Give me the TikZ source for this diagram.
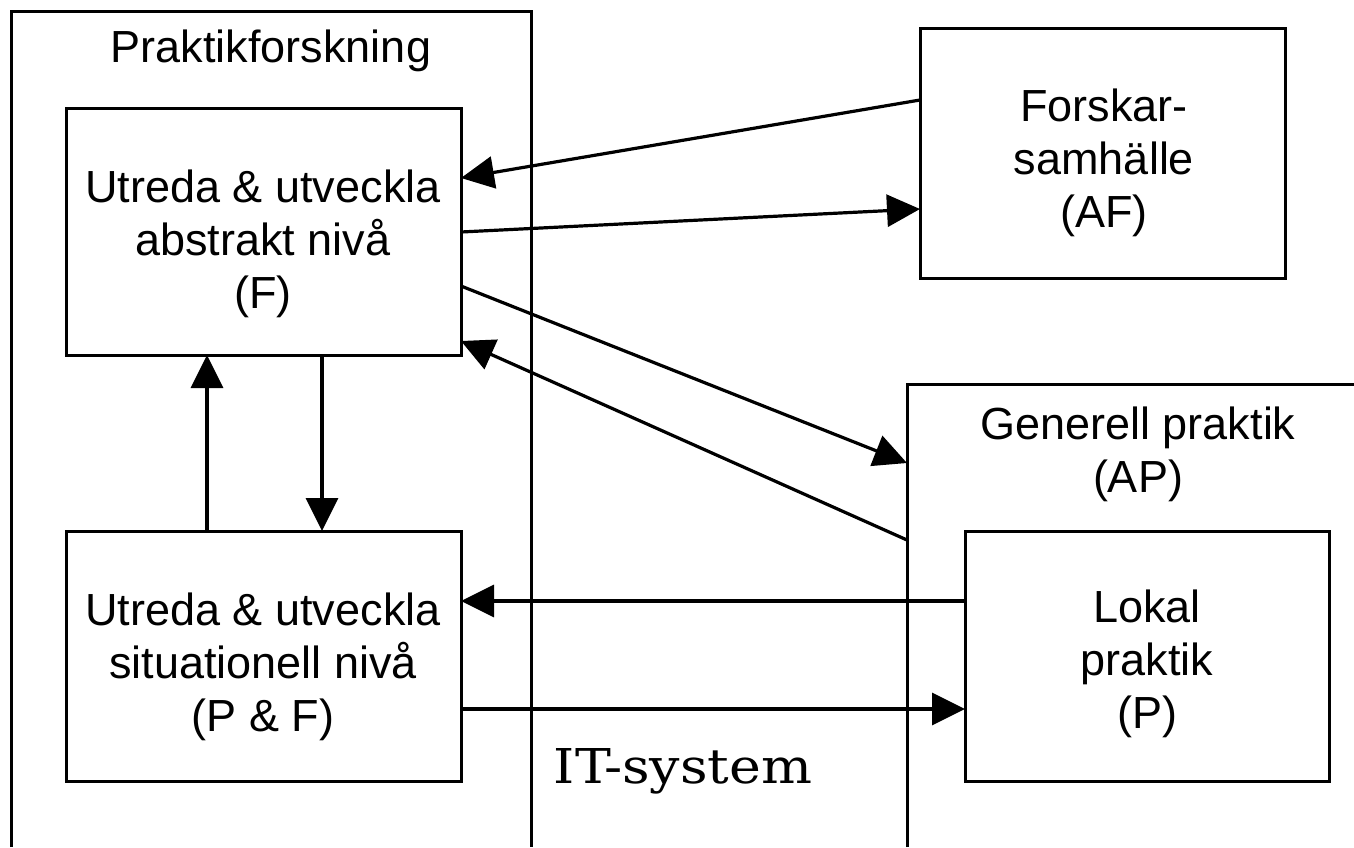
\documentclass[tikz,border=0pt]{standalone}
\usepackage{fontspec}
\setmainfont{Liberation Sans}
\newfontfamily\itsysfont[FakeStretch=1.12]{DejaVu Serif}
\usetikzlibrary{arrows.meta,calc}
\begin{document}
\begin{tikzpicture}[x=1pt,y=-1pt,
  box/.style={draw,line width=3pt,inner sep=0pt,outer sep=0pt},
  lbl/.style={font=\fontsize{45}{53}\selectfont,align=center,inner sep=0pt},
  conn/.style={line width=3.2pt,-{Triangle[length=33pt,width=32pt]}},
  framepath/.style={line width=3pt}]
\useasboundingbox (0,0) rectangle (1354,847);
% open frames
\draw[framepath] (11,847) -- (11,11) -- (531,11) -- (531,847);
\draw[framepath] (907,847) -- (907,384) -- (1354,384);
\coordinate (apin) at (907,463);
\coordinate (apout) at (907,540);
% boxes
\node[box,minimum width=395pt,minimum height=247pt] (F) at (263.5,231.5) {};
\node[box,minimum width=395pt,minimum height=250pt] (PF) at (263.5,656) {};
\node[box,minimum width=365pt,minimum height=250pt] (AF) at (1102.5,153) {};
\node[box,minimum width=364pt,minimum height=250pt] (P) at (1147,656) {};
% texts
\node[lbl,anchor=base] (pft) at (271,62) {Praktikforskning};
\node[lbl] (Ft) at (263,243.8) {Utreda \& utveckla\\abstrakt nivå\\(F)};
\node[lbl] (PFt) at (263,666.8) {Utreda \& utveckla\\situationell nivå\\(P \& F)};
\node[lbl] (AFt) at (1104,163) {Forskar-\\samhälle\\(AF)};
\node[lbl] (APt) at (1138,454) {Generell praktik\\(AP)};
\node[lbl] (Pt) at (1147,664) {Lokal\\praktik\\(P)};
\node[inner sep=0pt,anchor=base,font=\itsysfont\fontsize{48}{56}\selectfont] (it) at (683,783) {IT-system};
% connectors
\draw[conn] ($(AF.north west)+(0,72)$) -- ($(F.north east)+(0,70)$);
\draw[conn] ($(F.north east)+(0,124)$) -- ($(AF.north west)+(0,181)$);
\draw[conn] ($(F.north east)+(0,178)$) -- (apin);
\draw[conn] (apout) -- ($(F.north east)+(0,233)$);
\draw[conn] ($(F.south west)+(256,0)$) -- ($(PF.north west)+(256,0)$);
\draw[conn] ($(PF.north west)+(141,0)$) -- ($(F.south west)+(141,0)$);
\draw[conn] ($(P.north west)+(0,70)$) -- ($(PF.north east)+(0,70)$);
\draw[conn] ($(PF.north east)+(0,178)$) -- ($(P.north west)+(0,178)$);
\end{tikzpicture}
\end{document}
